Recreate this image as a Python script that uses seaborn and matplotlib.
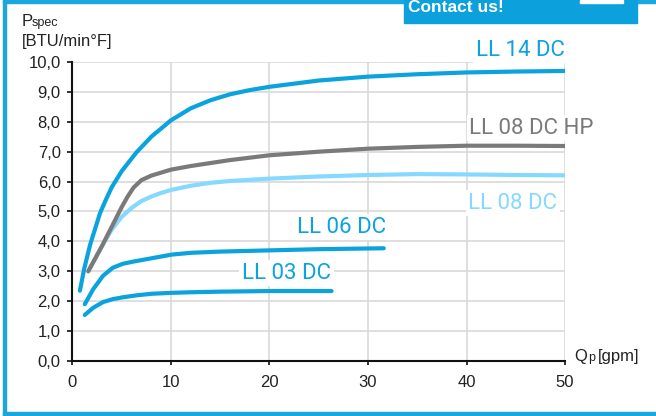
import matplotlib
matplotlib.use("Agg")
import seaborn as sns
from matplotlib import pyplot as plt
from matplotlib.patches import Rectangle

# curve data (Qp [gpm] -> Pspec [BTU/min°F])
x_ll14 = [0.75, 1.2, 1.8, 2.8, 3.4, 4.0, 5.0, 6.5, 8.0, 10.0, 12.0, 14.0, 16.0, 18.0, 20.0, 25.0, 30.0, 35.0, 40.0, 45.0, 50.0]
y_ll14 = [2.35, 3.1, 3.9, 4.95, 5.4, 5.82, 6.35, 6.98, 7.5, 8.05, 8.45, 8.72, 8.92, 9.06, 9.17, 9.38, 9.51, 9.59, 9.65, 9.68, 9.7]

x_ll08hp = [1.6, 3.0, 4.0, 5.0, 5.6, 6.2, 7.0, 8.0, 9.0, 10.0, 12.0, 14.0, 16.0, 20.0, 25.0, 30.0, 35.0, 40.0, 45.0, 50.0]
y_ll08hp = [3.0, 3.85, 4.5, 5.15, 5.5, 5.8, 6.05, 6.2, 6.3, 6.4, 6.52, 6.62, 6.72, 6.88, 7.0, 7.1, 7.16, 7.2, 7.2, 7.19]

x_ll08 = [1.6, 3.1, 4.0, 5.0, 6.0, 7.0, 8.0, 9.0, 10.0, 12.0, 14.0, 16.0, 20.0, 25.0, 30.0, 35.0, 40.0, 45.0, 50.0]
y_ll08 = [3.0, 3.9, 4.4, 4.82, 5.12, 5.35, 5.5, 5.62, 5.72, 5.86, 5.96, 6.02, 6.1, 6.17, 6.22, 6.25, 6.24, 6.22, 6.21]

x_ll06 = [1.25, 2.1, 3.1, 4.1, 5.1, 6.1, 7.1, 8.6, 10.1, 12.1, 15.1, 20.0, 25.0, 31.6]
y_ll06 = [1.9, 2.4, 2.85, 3.12, 3.25, 3.32, 3.38, 3.47, 3.56, 3.62, 3.66, 3.7, 3.74, 3.77]

x_ll03 = [1.25, 2.1, 3.1, 4.1, 5.1, 6.6, 8.1, 10.1, 12.1, 15.1, 20.0, 26.3]
y_ll03 = [1.54, 1.78, 1.97, 2.07, 2.13, 2.2, 2.25, 2.28, 2.3, 2.32, 2.34, 2.34]

x_ticks = [0, 10, 20, 30, 40, 50]
y_ticks = [0, 1, 2, 3, 4, 5, 6, 7, 8, 9, 10]
y_ticklabels = ['%.1f' % v for v in y_ticks]
y_ticklabels = [s.replace('.', ',') for s in y_ticklabels]

BLUE = '#0aa3de'
GREY = '#7a7a7a'
LIGHT = '#85d9ff'

sns.set_theme(style='white')
plt.rcParams['font.family'] = ['Liberation Sans', 'DejaVu Sans']

fig = plt.figure(figsize=(6.56, 4.16), dpi=100)
ax = fig.add_axes([0.1105, 0.1322, 0.7508, 0.7188])

# curves, light one under the grey one
for xs, ys, col in [(x_ll14, y_ll14, BLUE),
                    (x_ll08, y_ll08, LIGHT),
                    (x_ll08hp, y_ll08hp, GREY),
                    (x_ll06, y_ll06, BLUE),
                    (x_ll03, y_ll03, BLUE)]:
    sns.lineplot(x=xs, y=ys, ax=ax, color=col, linewidth=3,
                 estimator=None, solid_capstyle='round',
                 solid_joinstyle='round', zorder=3)

ax.set_xlim(0, 50)
ax.set_ylim(0, 10)
ax.set_xticks(x_ticks)
ax.set_yticks(y_ticks)
ax.set_yticklabels(y_ticklabels)
ax.grid(True, color='#d9d9d9', linewidth=1.2, zorder=0)
ax.set_axisbelow(True)
for s in ['top', 'right']:
    ax.spines[s].set_visible(False)
for s in ['left', 'bottom']:
    ax.spines[s].set_color('#111111')
    ax.spines[s].set_linewidth(1.5)
ax.tick_params(axis='y', left=True, length=3.5, width=1.2, color='#111111',
               pad=5, labelsize=12, labelcolor='#222222')
ax.tick_params(axis='x', bottom=True, length=3, width=1.2, color='#111111',
               pad=7, labelsize=12, labelcolor='#222222')

# curve labels
lab = dict(fontsize=16, family=['Roboto', 'DejaVu Sans'], va='center',
           clip_on=False, zorder=4,
           bbox=dict(facecolor='white', edgecolor='none', pad=2))
ax.text(50, 10.4, 'LL 14 DC', color=BLUE, ha='right', **lab)
ax.text(40.3, 7.79, 'LL 08 DC HP', color=GREY, ha='left', **lab)
ax.text(40.2, 5.28, 'LL 08 DC', color=LIGHT, ha='left', **lab)
ax.text(22.8, 4.48, 'LL 06 DC', color=BLUE, ha='left', **lab)
ax.text(17.2, 2.94, 'LL 03 DC', color=BLUE, ha='left', **lab)

# axis titles
W, H = 656.0, 416.0
fig.text(22 / W, 1 - 26 / H, 'P', fontsize=12, color='#222222', va='baseline')
fig.text(32 / W, 1 - 26 / H, 'spec', fontsize=9, color='#222222', va='baseline')
fig.text(22 / W, 1 - 46 / H, '[BTU/min°F]', fontsize=12, color='#222222', va='baseline')
fig.text(574 / W, 1 - 361 / H, 'Q', fontsize=12, color='#222222', va='baseline')
fig.text(588.5 / W, 1 - 361 / H, 'p', fontsize=9, color='#222222', va='baseline')
fig.text(598 / W, 1 - 361 / H, '[gpm]', fontsize=12, color='#222222', va='baseline')

# page frame and banner
FRAME = '#1aa7e0'
fig.patches.append(Rectangle((3 / W, 0), 3 / W, 1, transform=fig.transFigure,
                             color=FRAME, zorder=5))
fig.patches.append(Rectangle((3 / W, 1 - 415 / H), 1, 3.5 / H, transform=fig.transFigure,
                             color=FRAME, zorder=5))
fig.patches.append(Rectangle((3 / W, 1 - 2.5 / H), 1, 2.5 / H, transform=fig.transFigure,
                             color=FRAME, zorder=5))
fig.patches.append(Rectangle((404 / W, 1 - 23 / H), 233 / W, 23 / H, transform=fig.transFigure,
                             color='#0ca0dc', zorder=5))
fig.patches.append(Rectangle((580 / W, 1 - 3 / H), 43 / W, 3 / H, transform=fig.transFigure,
                             color='white', zorder=6))
fig.text(408 / W, 1 - 12.5 / H, 'Contact us!', fontsize=12.5, fontweight='bold',
         color='white', va='baseline', zorder=7)

fig.savefig('out.png', dpi=100)
